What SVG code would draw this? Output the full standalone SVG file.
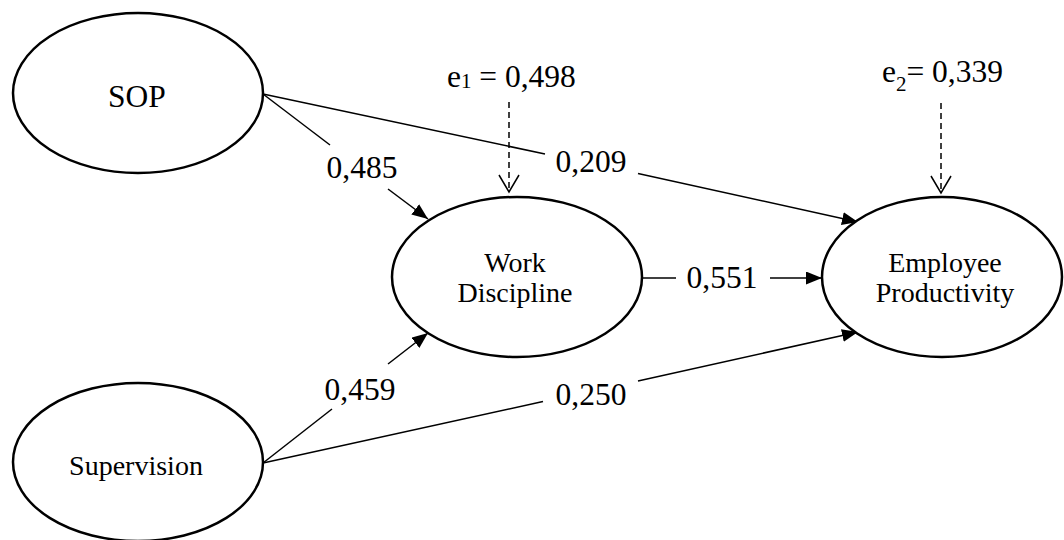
<svg xmlns="http://www.w3.org/2000/svg" width="1064" height="540" viewBox="0 0 1064 540">
<defs>
<marker id="arr" markerUnits="userSpaceOnUse" markerWidth="18" markerHeight="14" refX="16" refY="6.5" orient="auto">
<path d="M0,0 L16,6.5 L0,13 z" fill="#000"/>
</marker>
<marker id="open" markerUnits="userSpaceOnUse" markerWidth="20" markerHeight="24" refX="18" refY="11" orient="auto">
<path d="M1,1 L18,11 L1,21" fill="none" stroke="#000" stroke-width="1.5"/>
</marker>
</defs>
<style>
.node{fill:#fff;stroke:#000;stroke-width:2.5}
.ln{stroke:#000;stroke-width:1.5;fill:none}
.dash{stroke:#000;stroke-width:1.5;fill:none;stroke-dasharray:6,4}
.lbl{font-family:"Liberation Serif","Times New Roman",serif;font-size:31.5px;fill:#000}
.nt{font-family:"Liberation Serif","Times New Roman",serif;font-size:28px;fill:#000;text-anchor:middle}
</style>
<rect width="1064" height="540" fill="#fff"/>
<g id="connectors">
<line class="ln" x1="263" y1="94" x2="330" y2="145"/>
<line class="ln" x1="388" y1="189" x2="428" y2="219" marker-end="url(#arr)"/>
<line class="ln" x1="263" y1="94" x2="545" y2="154"/>
<line class="ln" x1="638" y1="173.5" x2="858" y2="222" marker-end="url(#arr)"/>
<line class="ln" x1="642" y1="278" x2="676" y2="278"/>
<line class="ln" x1="770" y1="278" x2="822" y2="278" marker-end="url(#arr)"/>
<line class="ln" x1="263" y1="463" x2="332" y2="409"/>
<line class="ln" x1="388" y1="364" x2="428" y2="333" marker-end="url(#arr)"/>
<line class="ln" x1="263" y1="463" x2="543" y2="401.5"/>
<line class="ln" x1="638" y1="381" x2="858" y2="332" marker-end="url(#arr)"/>
<line class="dash" x1="509" y1="102" x2="509" y2="192" marker-end="url(#open)"/>
<line class="dash" x1="941" y1="103" x2="941" y2="193" marker-end="url(#open)"/>
</g>
<g id="labels">
<text class="lbl" x="362" y="178" text-anchor="middle">0,485</text>
<text class="lbl" x="591" y="172" text-anchor="middle">0,209</text>
<text class="lbl" x="722" y="288" text-anchor="middle">0,551</text>
<text class="lbl" x="360" y="400" text-anchor="middle">0,459</text>
<text class="lbl" x="591" y="405" text-anchor="middle">0,250</text>
<text class="lbl" x="447" y="87">e<tspan font-size="21" dy="1">1</tspan><tspan dy="-1"> = 0,498</tspan></text>
<text class="lbl" x="882" y="82">e<tspan font-size="21" dy="9">2</tspan><tspan dy="-9">= 0,339</tspan></text>
</g>
<g id="sop">
<ellipse class="node" cx="138" cy="93" rx="125" ry="80"/>
<text class="lbl" x="137" y="107" text-anchor="middle">SOP</text>
</g>
<g id="supervision">
<ellipse class="node" cx="138" cy="462" rx="125" ry="79"/>
<text class="nt" x="136" y="475">Supervision</text>
</g>
<g id="work-discipline">
<ellipse class="node" cx="517" cy="277" rx="125" ry="80"/>
<text class="nt" x="515" y="272">Work</text>
<text class="nt" x="515" y="302">Discipline</text>
</g>
<g id="employee-productivity">
<ellipse class="node" cx="942" cy="277" rx="120" ry="80"/>
<text class="nt" x="945" y="272">Employee</text>
<text class="nt" x="945" y="302">Productivity</text>
</g>
</svg>
